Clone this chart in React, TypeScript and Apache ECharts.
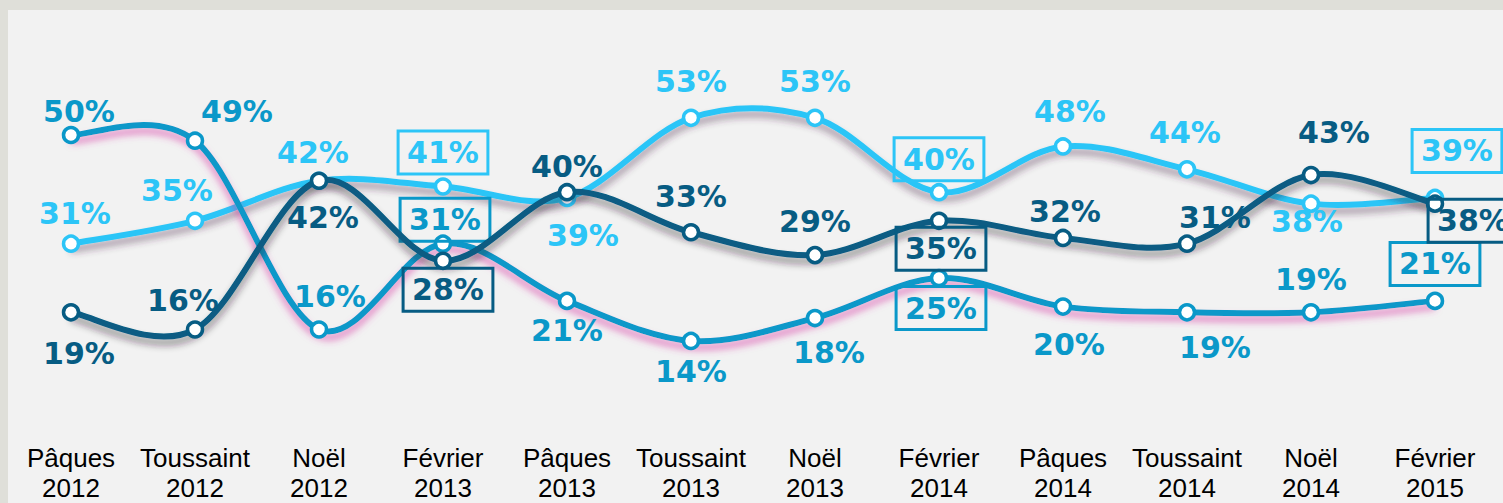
import React, { useEffect, useRef } from "react";
import * as echarts from "echarts";

const categories = [
  "Pâques\n2012", "Toussaint\n2012", "Noël\n2012", "Février\n2013",
  "Pâques\n2013", "Toussaint\n2013", "Noël\n2013", "Février\n2014",
  "Pâques\n2014", "Toussaint\n2014", "Noël\n2014", "Février\n2015",
];
const lightValues = [31, 35, 42, 41, 39, 53, 53, 40, 48, 44, 38, 39];
const mediumValues = [50, 49, 16, 31, 21, 14, 18, 25, 20, 19, 19, 21];
const darkValues = [19, 16, 42, 28, 40, 33, 29, 35, 32, 31, 43, 38];
const boxedIdx = [3, 7, 11];

const lightOffsets = [[4, -30], [-18, -30], [-6, -28], [0, -34], [16, 38], [0, -36], [0, -36], [0, -33], [7, -35], [-2, -37], [-4, 18], [22, -47]];
const mediumOffsets = [[8, -24], [42, -29], [11, -33], [2, -24], [0, 30], [0, 31], [14, 34], [2, 30], [6, 38], [28, 35], [0, -33], [0, -37]];
const darkOffsets = [[8, 41], [-12, -29], [4, 37], [5, 29], [0, -26], [0, -36], [0, -34], [2, 28], [2, -26], [28, -26], [23, -43], [38, 17]];

const LIGHT = "#2CC5F7";
const MEDIUM = "#0A98C9";
const DARK = "#075C83";

function curveSeries(values: number[], color: string, shadow: string, z: number) {
  return {
    type: "custom",
    coordinateSystem: "cartesian2d",
    silent: true,
    z,
    data: values.map((v, i) => [i, v]),
    encode: { x: 0, y: 1 },
    renderItem: (params: any, api: any) => {
      if (params.dataIndex !== 0) return null;
      const pts = values.map((v, i) => api.coord([i, v]));
      const k = 1 / 6;
      let d = `M${pts[0][0]},${pts[0][1]}`;
      for (let i = 0; i < pts.length - 1; i++) {
        const p0 = pts[i - 1] || pts[i];
        const p1 = pts[i];
        const p2 = pts[i + 1];
        const p3 = pts[i + 2] || pts[i + 1];
        const c1x = p1[0] + (p2[0] - p0[0]) * k;
        const c1y = p1[1] + (p2[1] - p0[1]) * k;
        const c2x = p2[0] - (p3[0] - p1[0]) * k;
        const c2y = p2[1] - (p3[1] - p1[1]) * k;
        d += ` C${c1x},${c1y} ${c2x},${c2y} ${p2[0]},${p2[1]}`;
      }
      return {
        type: "path",
        shape: { pathData: d },
        style: {
          fill: "none",
          stroke: color,
          lineWidth: 6,
          shadowBlur: 7,
          shadowColor: shadow,
          shadowOffsetY: 6,
        },
      };
    },
  };
}

function pointSeries(name: string, values: number[], offsets: number[][], color: string, z: number) {
  return {
    name,
    type: "line",
    z,
    symbol: "circle",
    symbolSize: 15,
    lineStyle: { opacity: 0 },
    itemStyle: { color: "#ffffff", borderColor: color, borderWidth: 3.5 },
    data: values.map((v, i) => {
      const boxed = boxedIdx.includes(i);
      return {
        value: v,
        label: {
          show: true,
          position: "inside",
          offset: offsets[i],
          formatter: "{c}%",
          color,
          fontFamily: "DejaVu Sans",
          fontWeight: "bold",
          fontSize: 30,
          lineHeight: 33,
          ...(boxed
            ? { borderColor: color, borderWidth: 1.5, padding: [5, 9], backgroundColor: "transparent" }
            : {}),
        },
      };
    }),
  };
}

export default function App() {
  const ref = useRef<HTMLDivElement>(null);
  useEffect(() => {
    if (!ref.current) return;
    const chart = echarts.init(ref.current, undefined, { renderer: "svg" });
    chart.setOption({
      animation: false,
      backgroundColor: "#DFDFD9",
      graphic: [
        { type: "rect", z: -10, shape: { x: 8, y: 10, width: 1495, height: 493 }, style: { fill: "#F2F2F2" } },
      ],
      grid: { left: 9, right: 6, top: 20.6, bottom: 81.5 },
      xAxis: {
        type: "category",
        data: categories,
        boundaryGap: true,
        axisLine: { show: false },
        axisTick: { show: false },
        axisLabel: {
          interval: 0,
          margin: 22,
          color: "#000000",
          fontFamily: "Liberation Sans",
          fontSize: 26,
          lineHeight: 30,
        },
      },
      yAxis: {
        type: "value",
        min: 0,
        max: 70,
        show: false,
        splitLine: { show: false },
      },
      series: [
        curveSeries(lightValues, LIGHT, "rgba(70,40,70,0.45)", 2),
        pointSeries("light", lightValues, lightOffsets, LIGHT, 3),
        curveSeries(mediumValues, MEDIUM, "rgba(215,60,165,0.6)", 4),
        pointSeries("medium", mediumValues, mediumOffsets, MEDIUM, 5),
        curveSeries(darkValues, DARK, "rgba(40,30,40,0.45)", 6),
        pointSeries("dark", darkValues, darkOffsets, DARK, 7),
      ],
    });
    return () => chart.dispose();
  }, []);
  return <div ref={ref} style={{ position: "absolute", left: 0, top: 0, width: 1503, height: 503 }} />;
}
